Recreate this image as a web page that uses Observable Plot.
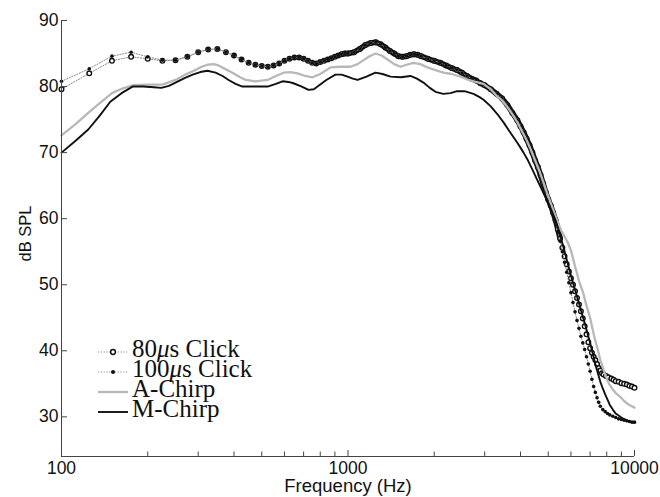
<!DOCTYPE html>
<html>
<head>
<meta charset="utf-8">
<script src="https://cdn.jsdelivr.net/npm/d3@7"></script>
<script src="https://cdn.jsdelivr.net/npm/@observablehq/plot@0.6"></script>
<style>
  body { margin: 0; background: #fff; }
  #wrap { position: relative; width: 660px; height: 497px; }
  .leg { position: absolute; left: 97px; height: 20px; width: 200px; }
  .leg svg { position: absolute; left: 0; top: 2.6px; }
  .leg span { position: absolute; left: 35px; top: 0; font-family: "Liberation Serif", "Times New Roman", serif; font-size: 25px; line-height: 20px; white-space: nowrap; color: #111; }
</style>
</head>
<body>
<div id="wrap"></div>
<script>
// ---- tick labels ----
const xTickValues = [100, 1000, 10000];
const xMinorTicks = [200, 300, 400, 500, 600, 700, 800, 900, 2000, 3000, 4000, 5000, 6000, 7000, 8000, 9000];
const yTickValues = [30, 40, 50, 60, 70, 80, 90];
const seriesNames = ["80μs Click", "100μs Click", "A-Chirp", "M-Chirp"];

// ---- 80 µs click ----
const click80Freq = [100,125,150,175,200,225,250,275,300,325,350,375,400,425,450,475,500,525,550,575,600,625,650,675,700,725,750,775,800,825,850,875,900,925,950,975,1000,1050,1100,1150,1200,1250,1300,1350,1400,1450,1500,1550,1600,1650,1700,1750,1800,1900,2000,2100,2200,2300,2400,2500,2600,2700,2800,2900,3000,3150,3300,3450,3600,3750,3900,4000,4100,4200,4300,4400,4500,4600,4700,4800,4900,5000,5100,5200,5300,5400,5500,5600,5700,5800,5900,6000,6100,6200,6300,6400,6500,6600,6700,6800,6900,7000,7100,7200,7300,7400,7500,7600,7700,7800,7950,8100,8300,8450,8600,8800,9000,9200,9400,9600,9800,10000];
const click80dB = [79.6,82.0,83.9,84.5,84.2,83.9,84.0,84.5,85.2,85.6,85.7,85.2,84.7,84.1,83.6,83.3,83.1,83.0,83.2,83.5,83.9,84.2,84.4,84.4,84.2,83.9,83.6,83.5,83.7,83.9,84.1,84.3,84.5,84.7,84.9,85.0,85.0,85.2,85.7,86.3,86.6,86.7,86.4,85.9,85.4,85.0,84.6,84.5,84.6,84.8,84.9,84.8,84.6,84.2,83.9,83.6,83.2,82.8,82.5,82.1,81.6,81.2,80.9,80.5,80.2,79.6,78.9,78.2,77.2,76.0,74.9,74.0,73.1,72.1,71.1,70.0,68.8,67.8,66.6,65.3,64.0,62.9,62.0,60.9,59.8,58.4,57.0,55.6,54.3,53.1,52.0,51.0,50.0,49.0,48.0,47.0,46.0,44.9,43.7,42.5,41.3,40.4,39.7,39.1,38.6,38.0,37.4,37.0,36.6,36.4,36.2,36.0,35.8,35.6,35.4,35.3,35.1,35.0,34.9,34.7,34.6,34.4];

// ---- 100 µs click ----
const click100Freq = [100,125,150,175,200,225,250,275,300,325,350,375,400,425,450,475,500,525,550,575,600,625,650,675,700,725,750,775,800,825,850,875,900,925,950,975,1000,1050,1100,1150,1200,1250,1300,1350,1400,1450,1500,1550,1600,1650,1700,1750,1800,1900,2000,2100,2200,2300,2400,2500,2600,2700,2800,2900,3000,3150,3300,3450,3600,3750,3900,4000,4100,4200,4300,4400,4500,4600,4700,4800,4900,5000,5100,5200,5300,5400,5500,5600,5700,5800,5900,6000,6100,6200,6300,6400,6500,6600,6700,6800,6900,7000,7100,7200,7300,7400,7500,7600,7750,7900,8050,8200,8400,8600,8800,9000,9200,9400,9600,9800,10000];
const click100dB = [80.8,82.7,84.6,85.2,84.5,84.0,84.0,84.5,85.2,85.6,85.7,85.2,84.7,84.1,83.6,83.3,83.1,83.0,83.2,83.5,83.9,84.2,84.4,84.4,84.2,83.9,83.6,83.5,83.7,83.9,84.1,84.3,84.5,84.7,84.9,85.0,85.0,85.2,85.7,86.3,86.6,86.7,86.4,85.9,85.4,85.0,84.6,84.5,84.6,84.8,84.9,84.8,84.6,84.2,83.9,83.6,83.2,82.8,82.5,82.1,81.6,81.2,80.9,80.5,80.2,79.6,78.9,78.2,77.2,76.0,74.9,74.0,73.1,72.1,71.1,70.0,68.8,67.8,66.6,65.3,64.0,62.9,62.0,60.9,59.8,58.0,56.6,55.0,53.4,51.9,50.3,48.8,47.3,45.9,44.6,43.4,42.2,41.2,40.2,39.1,38.0,36.9,35.7,34.6,33.7,32.9,32.2,31.6,31.1,30.8,30.5,30.3,30.1,29.9,29.7,29.6,29.5,29.4,29.3,29.2,29.2];

// ---- A-Chirp ----
const aChirpFreq = [100,112,124,137,150,163,177,200,225,250,270,287,305,323,340,353,375,395,420,440,475,524,560,596,630,666,710,752,800,870,940,1020,1080,1133,1190,1247,1310,1374,1450,1525,1600,1693,1790,1893,2020,2155,2300,2470,2600,2742,2972,3150,3300,3450,3600,3750,3900,4050,4200,4350,4500,4650,4800,4950,5100,5250,5400,5550,5700,5850,6000,6200,6400,6637,6800,7000,7130,7250,7430,7600,7800,7950,8150,8380,8600,8935,9200,9500,10000];
const aChirpdB = [72.6,74.3,76.0,77.6,79.0,79.7,80.2,80.3,80.3,81.0,81.8,82.3,82.9,83.3,83.4,83.2,82.6,82.1,81.4,81.0,80.8,81.0,81.6,82.1,82.2,82.0,81.6,81.4,81.9,82.9,83.0,83.0,83.4,84.0,84.6,85.0,84.7,84.1,83.4,83.0,83.3,83.6,83.4,82.9,82.5,82.1,81.9,81.5,81.1,80.8,80.4,79.6,78.6,77.9,76.9,75.8,74.6,73.2,71.9,70.4,68.8,67.3,65.6,63.9,62.4,60.9,59.5,58.2,57.3,56.4,55.2,52.8,50.6,48.6,46.8,45.0,43.4,42.0,40.3,38.6,37.1,36.1,35.0,34.2,33.6,33.0,32.4,31.9,31.4];

// ---- M-Chirp ----
const mChirpFreq = [100,112,124,136,148,162,177,193,210,223,237,250,270,287,305,323,345,365,383,405,428,464,524,560,591,620,645,690,728,760,783,840,904,950,996,1040,1080,1160,1247,1320,1407,1530,1652,1740,1834,1930,2020,2150,2278,2405,2550,2742,2880,2972,3150,3326,3500,3690,3900,4100,4250,4406,4550,4699,4900,5090,5300,5500,5650,5800,5950,6100,6250,6400,6550,6700,6850,7000,7150,7300,7450,7600,7750,7900,8050,8200,8400,8600,8800,9000,9250,9500,9750,10000];
const mChirpdB = [70.0,71.8,73.5,75.6,77.7,79.0,80.0,80.0,79.9,79.8,80.1,80.6,81.3,81.8,82.2,82.4,82.1,81.6,81.0,80.4,80.0,80.0,80.0,80.4,80.8,80.7,80.5,80.0,79.5,79.6,80.0,81.0,81.8,81.8,81.5,81.2,81.0,81.5,82.1,81.9,81.5,81.4,81.6,81.2,80.6,79.8,79.2,78.9,79.0,79.3,79.3,78.9,78.4,78.0,77.0,75.8,74.5,73.0,71.5,70.0,68.8,67.4,66.1,64.8,63.2,61.6,59.8,57.5,55.7,53.8,52.0,50.3,48.7,47.2,45.7,44.2,42.7,41.2,39.6,38.0,36.6,35.3,34.3,33.4,32.6,31.8,31.1,30.5,30.2,29.9,29.6,29.4,29.2,29.1];

const rows = (f, v) => f.map((x, i) => ({f: x, db: v[i]}));
const c80 = rows(click80Freq, click80dB);
const c100 = rows(click100Freq, click100dB);
const aCh = rows(aChirpFreq, aChirpdB);
const mCh = rows(mChirpFreq, mChirpdB);

const W = 660, H = 497, mL = 61, mR = 26, mT = 20, mB = 41;
const frameW = W - mL - mR, frameH = H - mT - mB;
const axisColor = "#444";
const dotted = {stroke: "#8a8a8a", strokeWidth: 1, strokeDasharray: "1.2,1.6"};

const chart = Plot.plot({
  width: W, height: H,
  marginLeft: mL, marginRight: mR, marginTop: mT, marginBottom: mB,
  x: {type: "log", domain: [100, 10000]},
  y: {domain: [24, 90]},
  style: {background: "#fff", fontFamily: "'Liberation Sans', Arial, sans-serif", color: "#111"},
  marks: [
    // series (MATLAB plotting order)
    Plot.line(c80, {x: "f", y: "db", ...dotted}),
    Plot.line(c80.filter(d => d.f >= 950 && d.f <= 5500), {x: "f", y: "db", stroke: "#111", strokeWidth: 5.5}),
    Plot.dot(c80, {x: "f", y: "db", r: 2.3, stroke: "#111", strokeWidth: 1.4, fill: "#fff"}),
    Plot.line(c100, {x: "f", y: "db", ...dotted}),
    Plot.dot(c100, {x: "f", y: "db", r: 1.8, fill: "#111", stroke: "none"}),
    Plot.line(aCh, {x: "f", y: "db", stroke: "#b8b8b8", strokeWidth: 2.3}),
    Plot.line(mCh, {x: "f", y: "db", stroke: "#111", strokeWidth: 1.9}),
    // axes
    Plot.axisX({ticks: xTickValues, tickFormat: d => String(d), tickSize: 0, tickPadding: 5.5, fontSize: 17.5, label: null}),
    Plot.axisY({ticks: yTickValues, tickSize: 0, tickPadding: 3, fontSize: 17.5, label: null}),
    Plot.tickX(xTickValues, {x: d => d, insetTop: frameH - 6, stroke: axisColor}),
    Plot.tickX(xMinorTicks, {x: d => d, insetTop: frameH - 4.5, stroke: axisColor}),
    Plot.tickY(yTickValues, {y: d => d, insetRight: frameW - 6, stroke: axisColor}),
    Plot.ruleX([100], {stroke: axisColor}),
    Plot.ruleY([24], {stroke: axisColor}),
    Plot.text(["Frequency (Hz)"], {text: d => d, frameAnchor: "bottom", textAnchor: "middle", lineAnchor: "middle", dy: 30, fontSize: 18.5, fill: "#111"}),
    Plot.text(["dB SPL"], {text: d => d, frameAnchor: "left", textAnchor: "middle", lineAnchor: "middle", rotate: -90, dx: -35.5, dy: -5, fontSize: 16.5, fill: "#111"})
  ]
});

const wrap = document.getElementById("wrap");
wrap.appendChild(chart);

// ---- legend ----
const swatches = [
  `<line x1="1" x2="31" y1="10" y2="10" stroke="#8a8a8a" stroke-width="1" stroke-dasharray="1.2,1.6"/><circle cx="16" cy="10" r="2.4" fill="#fff" stroke="#111" stroke-width="1.5"/>`,
  `<line x1="1" x2="31" y1="10" y2="10" stroke="#8a8a8a" stroke-width="1" stroke-dasharray="1.2,1.6"/><circle cx="16" cy="10" r="2" fill="#111"/>`,
  `<line x1="1" x2="31" y1="10" y2="10" stroke="#b8b8b8" stroke-width="2.3"/>`,
  `<line x1="1" x2="31" y1="10" y2="10" stroke="#111" stroke-width="1.9"/>`
];
seriesNames.forEach((name, i) => {
  const row = document.createElement("div");
  row.className = "leg";
  row.style.top = (339 + i * 20) + "px";
  const label = name.replace("μ", "<i>μ</i>");
  row.innerHTML = `<svg width="32" height="20">${swatches[i]}</svg><span>${label}</span>`;
  wrap.appendChild(row);
});
</script>
</body>
</html>
